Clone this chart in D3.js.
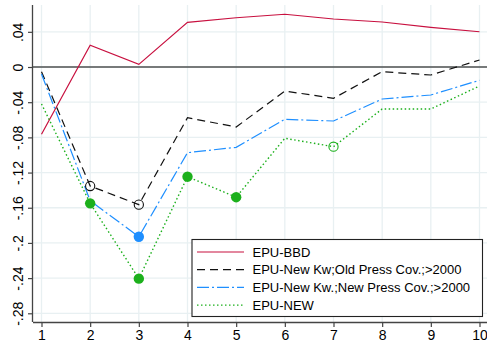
<!DOCTYPE html>
<html>
<head>
<meta charset="utf-8">
<script src="https://cdn.jsdelivr.net/npm/d3@7"></script>
<style>
  html, body { margin: 0; padding: 0; background: #fff; }
  svg { display: block; font-family: "Liberation Sans", Arial, sans-serif; }
</style>
</head>
<body>
<svg id="chart" width="487" height="344"></svg>
<script>
// Horizons and estimates for each index
const horizons = [1, 2, 3, 4, 5, 6, 7, 8, 9, 10];
const yTicks = [0.04, 0, -0.04, -0.08, -0.12, -0.16, -0.2, -0.24, -0.28];
const yTickLabels = [".04", "0", "-.04", "-.08", "-.12", "-.16", "-.2", "-.24", "-.28"];

const epuBBD    = [-0.0765, 0.0247, 0.0030, 0.0508, 0.0560, 0.0600, 0.0546, 0.0512, 0.0451, 0.0401];
const epuOldCov = [-0.0053, -0.1353, -0.1565, -0.0576, -0.0682, -0.0273, -0.0356, -0.0053, -0.0091, 0.0080];
const epuNewCov = [-0.0080, -0.1520, -0.1930, -0.0974, -0.0913, -0.0595, -0.0614, -0.0364, -0.0318, -0.0151];
const epuNEW    = [-0.0420, -0.1550, -0.2406, -0.1247, -0.1480, -0.0810, -0.0906, -0.0477, -0.0477, -0.0216];

// Marker per point: "" none, "o" hollow circle, "f" filled circle
const mkBBD    = ["", "", "", "", "", "", "", "", "", ""];
const mkOldCov = ["", "o", "o", "", "", "", "", "", "", ""];
const mkNewCov = ["", "", "f", "", "", "", "", "", "", ""];
const mkNEW    = ["", "f", "f", "f", "f", "", "o", "", "", ""];

const seriesNames = ["EPU-BBD", "EPU-New Kw;Old Press Cov.;>2000", "EPU-New Kw.;New Press Cov.;>2000", "EPU-NEW"];

const series = [
  { name: seriesNames[0], values: epuBBD,    marks: mkBBD,    color: "#c8103f", dash: null,          width: 1.2 },
  { name: seriesNames[1], values: epuOldCov, marks: mkOldCov, color: "#111111", dash: "8,5",         width: 1.2 },
  { name: seriesNames[2], values: epuNewCov, marks: mkNewCov, color: "#1e8fff", dash: "12,3,2,3",    width: 1.2 },
  { name: seriesNames[3], values: epuNEW,    marks: mkNEW,    color: "#1cb01c", dash: "1.5,2.5",     width: 1.4 }
];

const svg = d3.select("#chart");
const plotL = 33, plotR = 487, plotT = 5, plotB = 322;

const x = d3.scaleLinear().domain([1, 10]).range([41.5, 479.5]);
const y = d3.scaleLinear().domain([-0.2899, 0.0705]).range([plotB, plotT]);

// Grid
const grid = svg.append("g");
grid.selectAll("line.v").data(horizons).join("line")
  .attr("x1", d => x(d)).attr("x2", d => x(d))
  .attr("y1", plotT).attr("y2", plotB)
  .attr("stroke", "#e8f0f2").attr("stroke-width", 1.3);
grid.selectAll("line.h").data(yTicks).join("line")
  .attr("x1", plotL).attr("x2", plotR)
  .attr("y1", d => y(d)).attr("y2", d => y(d))
  .attr("stroke", "#e8f0f2").attr("stroke-width", 1.3);

// Zero reference line
svg.append("line")
  .attr("x1", plotL).attr("x2", plotR)
  .attr("y1", y(0)).attr("y2", y(0))
  .attr("stroke", "#000").attr("stroke-width", 1.2);

// Axes
const xAxis = d3.axisBottom(x).tickValues(horizons).tickSize(5).tickPadding(3).tickFormat(d3.format("d"));
const gx = svg.append("g").attr("transform", `translate(0,${plotB})`).call(xAxis);
gx.select(".domain").attr("d", `M${plotL},0.5H${plotR}`).attr("stroke", "#444").attr("stroke-width", 1.3);
gx.selectAll(".tick line").attr("stroke", "#444").attr("stroke-width", 1.2);
gx.selectAll(".tick text").attr("font-size", 14).attr("fill", "#000")
  .attr("font-family", "Liberation Sans, Arial, sans-serif");

const yAxis = d3.axisLeft(y).tickValues(yTicks).tickSize(5).tickFormat((d, i) => yTickLabels[i]);
const gy = svg.append("g").attr("transform", `translate(${plotL},0)`).call(yAxis);
gy.select(".domain").attr("d", `M-0.5,${plotT}V${plotB}`).attr("stroke", "#444").attr("stroke-width", 1.3);
gy.selectAll(".tick line").attr("stroke", "#444").attr("stroke-width", 1.2);
gy.selectAll(".tick text")
  .attr("font-size", 14).attr("fill", "#000")
  .attr("font-family", "Liberation Sans, Arial, sans-serif")
  .attr("x", null).attr("dy", null)
  .attr("text-anchor", "middle")
  .attr("transform", "translate(-10,0) rotate(-90)")
  .attr("y", 0);

// Lines
const line = d3.line().x((d, i) => x(horizons[i])).y(d => y(d));
const gl = svg.append("g");
series.forEach(s => {
  gl.append("path").datum(s.values)
    .attr("d", line)
    .attr("fill", "none")
    .attr("stroke", s.color)
    .attr("stroke-width", s.width)
    .attr("stroke-dasharray", s.dash);
});

// Markers
series.forEach(s => {
  const pts = s.values.map((v, i) => ({ v, i, m: s.marks[i] })).filter(p => p.m);
  gl.selectAll(null).data(pts).join("circle")
    .attr("cx", p => x(horizons[p.i]))
    .attr("cy", p => y(p.v))
    .attr("r", p => p.m === "f" ? 5.2 : 4.6)
    .attr("fill", p => p.m === "f" ? s.color : "none")
    .attr("stroke", s.color)
    .attr("stroke-width", p => p.m === "f" ? 0 : 1.1);
});

// Legend
const lg = svg.append("g");
lg.append("rect")
  .attr("x", 192).attr("y", 239.5).attr("width", 290.5).attr("height", 77)
  .attr("fill", "#fff").attr("stroke", "#222").attr("stroke-width", 1.1);
series.forEach((s, i) => {
  const yy = 252 + i * 17.7;
  lg.append("line")
    .attr("x1", 197).attr("x2", 244).attr("y1", yy).attr("y2", yy)
    .attr("stroke", s.color).attr("stroke-width", s.width)
    .attr("stroke-dasharray", s.dash);
  lg.append("text")
    .attr("x", 252.5).attr("y", yy).attr("dy", "0.36em")
    .attr("font-size", 13).attr("fill", "#000")
    .text(s.name);
});
</script>
</body>
</html>
